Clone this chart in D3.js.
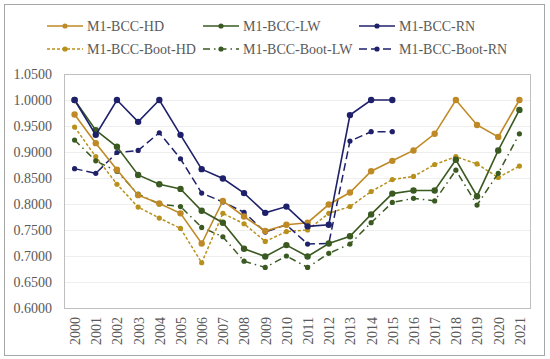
<!DOCTYPE html>
<html>
<head>
<meta charset="utf-8">
<script src="https://cdn.jsdelivr.net/npm/d3@7"></script>
<style>
  body { margin: 0; background: #fff; }
</style>
</head>
<body>
<div id="chart"></div>
<script>
var years = d3.range(2000, 2022).map(String);
var yTicks = [0.60, 0.65, 0.70, 0.75, 0.80, 0.85, 0.90, 0.95, 1.00, 1.05];

var hd     = [0.972, 0.917, 0.866, 0.817, 0.801, 0.782, 0.724, 0.806, 0.776, 0.748, 0.760, 0.764, 0.799, 0.822, 0.863, 0.883, 0.903, 0.935, 1.000, 0.952, 0.929, 1.000];
var lw     = [1.000, 0.942, 0.910, 0.856, 0.838, 0.829, 0.787, 0.764, 0.714, 0.699, 0.721, 0.699, 0.724, 0.738, 0.780, 0.820, 0.826, 0.826, 0.885, 0.815, 0.903, 0.981];
var rn     = [1.000, 0.933, 1.000, 0.958, 1.000, 0.933, 0.867, 0.849, 0.821, 0.783, 0.795, 0.757, 0.760, 0.971, 1.000, 1.000];
var bootHd = [0.948, 0.891, 0.838, 0.794, 0.773, 0.753, 0.687, 0.782, 0.762, 0.728, 0.747, 0.750, 0.782, 0.795, 0.824, 0.847, 0.853, 0.876, 0.891, 0.877, 0.851, 0.873];
var bootLw = [0.923, 0.883, 0.863, 0.819, 0.800, 0.795, 0.755, 0.737, 0.690, 0.678, 0.700, 0.678, 0.705, 0.723, 0.764, 0.803, 0.811, 0.806, 0.865, 0.798, 0.859, 0.935];
var bootRn = [0.868, 0.859, 0.899, 0.903, 0.937, 0.887, 0.821, 0.804, 0.784, 0.746, 0.760, 0.723, 0.724, 0.921, 0.939, 0.939];

var series = [
  { name: 'M1-BCC-HD',      values: hd,     color: '#BF8A26', dash: null,        r: 3.2 },
  { name: 'M1-BCC-LW',      values: lw,     color: '#3A5A22', dash: null,        r: 3.2 },
  { name: 'M1-BCC-RN',      values: rn,     color: '#1E206A', dash: null,        r: 3.2 },
  { name: 'M1-BCC-Boot-HD', values: bootHd, color: '#B8901C', dash: '3,2',       r: 2.6 },
  { name: 'M1-BCC-Boot-LW', values: bootLw, color: '#3A5A22', dash: '7,4,1.5,4', r: 2.6 },
  { name: 'M1-BCC-Boot-RN', values: bootRn, color: '#1E206A', dash: '8,4',       r: 2.6 }
];

(function() {
  var width = 550, height = 359;
  var FONT = '"Liberation Serif", "Times New Roman", "DejaVu Serif", serif';
  var svg = d3.select('#chart').append('svg')
    .attr('width', width)
    .attr('height', height);

  // outer frame
  svg.append('rect')
    .attr('x', 4.5).attr('y', 4.5)
    .attr('width', 540).attr('height', 351)
    .attr('fill', 'none').attr('stroke', '#a6a6a6').attr('stroke-width', 1);

  var pLeft = 64, pRight = 530, pTop = 74, pBottom = 308;

  var x = d3.scalePoint()
    .domain(years)
    .range([pLeft, pRight])
    .padding(0.5);

  var y = d3.scaleLinear()
    .domain([0.6, 1.05])
    .range([pBottom, pTop]);

  // grid
  svg.append('g').selectAll('line')
    .data(yTicks.slice(1, -1))
    .enter().append('line')
    .attr('x1', pLeft).attr('x2', pRight)
    .attr('y1', function(d) { return y(d) + 0.5; })
    .attr('y2', function(d) { return y(d) + 0.5; })
    .attr('stroke', '#eeeeee').attr('stroke-width', 1);

  svg.append('rect')
    .attr('x', pLeft + 0.5).attr('y', pTop + 0.5)
    .attr('width', pRight - pLeft).attr('height', pBottom - pTop)
    .attr('fill', 'none').attr('stroke', '#bfbfbf').attr('stroke-width', 1);

  // y axis labels
  var yAxis = svg.append('g')
    .attr('transform', 'translate(' + (pLeft - 3) + ',0)')
    .call(d3.axisLeft(y).tickValues(yTicks).tickFormat(d3.format('.4f')).tickSize(0).tickPadding(9));
  yAxis.select('.domain').remove();
  yAxis.selectAll('text')
    .style('font-family', FONT)
    .style('font-size', '14px')
    .attr('fill', '#595959');

  // x axis labels
  var xAxis = svg.append('g')
    .attr('transform', 'translate(0,' + pBottom + ')')
    .call(d3.axisBottom(x).tickSize(0));
  xAxis.select('.domain').remove();
  xAxis.selectAll('text')
    .style('font-family', FONT)
    .style('font-size', '14px')
    .attr('fill', '#595959')
    .attr('transform', 'rotate(-90)')
    .attr('text-anchor', 'end')
    .attr('x', -9)
    .attr('y', 0)
    .attr('dy', '0.35em');

  var line = d3.line()
    .x(function(d, i) { return x(years[i]); })
    .y(function(d) { return y(d); });

  var drawOrder = [3, 4, 5, 0, 1, 2];
  drawOrder.forEach(function(k) {
    var s = series[k];
    var g = svg.append('g');
    g.append('path')
      .attr('d', line(s.values))
      .attr('fill', 'none')
      .attr('stroke', s.color)
      .attr('stroke-width', s.dash ? 1.5 : 1.6)
      .attr('stroke-dasharray', s.dash);
    g.selectAll('circle')
      .data(s.values)
      .enter().append('circle')
      .attr('cx', function(d, i) { return x(years[i]); })
      .attr('cy', function(d) { return y(d); })
      .attr('r', s.r)
      .attr('fill', s.color);
  });

  // legend
  var legendX = [47, 203, 359];
  var legendY = [26, 49];
  series.forEach(function(s, i) {
    var lx = legendX[i % 3], ly = legendY[Math.floor(i / 3)];
    var g = svg.append('g').attr('transform', 'translate(' + lx + ',' + ly + ')');
    g.append('line')
      .attr('x1', 0).attr('x2', 36)
      .attr('y1', 0).attr('y2', 0)
      .attr('stroke', s.color).attr('stroke-width', 1.6)
      .attr('stroke-dasharray', s.dash);
    g.append('circle').attr('cx', 18).attr('cy', 0).attr('r', 2.6).attr('fill', s.color);
    g.append('text')
      .attr('x', 40).attr('y', 0).attr('dy', '0.35em')
      .style('font-family', FONT)
      .style('font-size', '14px')
      .attr('fill', '#595959')
      .text(s.name);
  });
})();
</script>
</body>
</html>
